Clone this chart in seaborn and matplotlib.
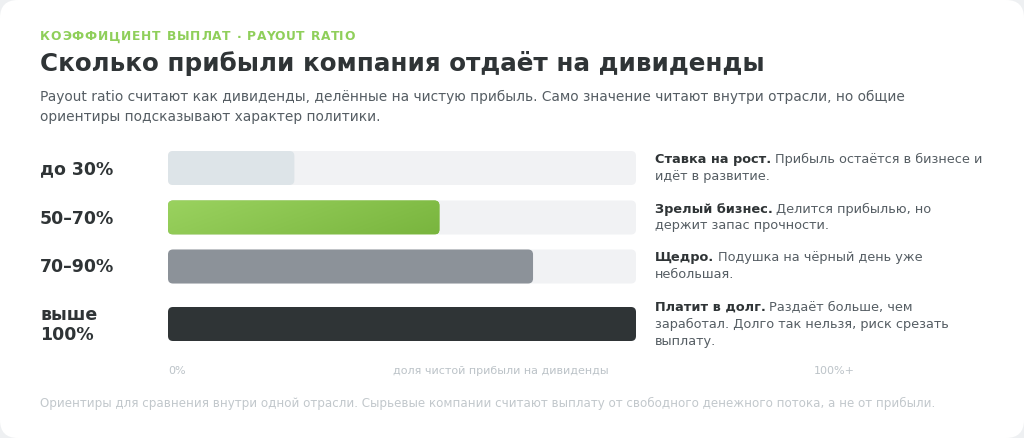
import numpy as np
import pandas as pd
import matplotlib
matplotlib.use("Agg")
import matplotlib.pyplot as plt
import seaborn as sns
from matplotlib.patches import FancyBboxPatch

# ---------------- data ----------------
categories = ["до 30%", "50–70%", "70–90%", "выше\n100%"]
payout_share = [0.27, 0.58, 0.78, 1.00]
track_share = [1.0, 1.0, 1.0, 1.0]
lead_text = ["Ставка на рост.", "Зрелый бизнес.", "Щедро.", "Платит в долг."]
desc_lines = [
    ["Прибыль остаётся в бизнесе и", "идёт в развитие."],
    ["Делится прибылью, но", "держит запас прочности."],
    ["Подушка на чёрный день уже", "небольшая."],
    ["Раздаёт больше, чем", "заработал. Долго так нельзя, риск срезать", "выплату."],
]
axis_labels = ["0%", "доля чистой прибыли на дивиденды", "100%+"]
kicker = "КОЭФФИЦИЕНТ ВЫПЛАТ · PAYOUT RATIO"
title = "Сколько прибыли компания отдаёт на дивиденды"
subtitle_lines = [
    "Payout ratio считают как дивиденды, делённые на чистую прибыль. Само значение читают внутри отрасли, но общие",
    "ориентиры подсказывают характер политики.",
]
footnote = ("Ориентиры для сравнения внутри одной отрасли. Сырьевые компании считают выплату "
            "от свободного денежного потока, а не от прибыли.")

# ---------------- style ----------------
sns.set_theme(style="white")
plt.rcParams["font.family"] = ["DejaVu Sans"]

DARK = "#2f3436"
MID = "#555d63"
LIGHT = "#bcc3c8"
GREEN = "#8fcf5a"
bar_colors = ["#dde4e8", "#88c24d", "#8c9299", "#2f3436"]
TRACK = "#f1f2f4"

W, H = 1024, 438
fig = plt.figure(figsize=(W / 100, H / 100), dpi=100, facecolor="#eef0f2")
bg = fig.add_axes([0, 0, 1, 1])
bg.set_xlim(0, W)
bg.set_ylim(H, 0)
bg.axis("off")
bg.patch.set_alpha(0)
bg.add_patch(FancyBboxPatch((0, 0), W, H, boxstyle="round,pad=0,rounding_size=18",
                            fc="white", ec="none", zorder=0))
renderer = fig.canvas.get_renderer()


def text_width(s, **kw):
    t = bg.text(0, 0, s, **kw)
    w = t.get_window_extent(renderer).width
    t.remove()
    return w


# kicker with letter spacing
kk = dict(fontsize=8.8, fontweight="bold", color=GREEN, va="center", ha="left")
natural = text_width(kicker, **kk)
sp = (315 - natural) / (len(kicker) - 1)
for i, ch in enumerate(kicker):
    x = 40 + (text_width(kicker[:i], **kk) if i else 0) + i * sp
    bg.text(x, 37, ch, **kk)

bg.text(40, 64, title, fontsize=17.7, fontweight="bold", color=DARK, va="center", ha="left")
for i, line in enumerate(subtitle_lines):
    bg.text(40, 97 + i * 20, line, fontsize=9.87, color=MID, va="center", ha="left")

# ---------------- bars ----------------
row_y = [168, 217.5, 266.5, 324]
bar_h = 34
X0, X1 = 168, 636
Y0, Y1 = 140, 350
ax = fig.add_axes([X0 / W, 1 - Y1 / H, (X1 - X0) / W, (Y1 - Y0) / H])
ax.patch.set_alpha(0)
df = pd.DataFrame({"cat": categories, "pos": row_y, "val": payout_share, "track": track_share})
wfrac = bar_h / 49.0
sns.barplot(data=df, x="track", y="pos", orient="h", native_scale=True, width=wfrac,
            color=TRACK, saturation=1, ax=ax)
n_track = len(ax.patches)
sns.barplot(data=df, x="val", y="pos", hue="cat", palette=bar_colors, orient="h",
            native_scale=True, width=wfrac, dodge=False, saturation=1, legend=False, ax=ax)
ax.set_xlim(0, 1)
ax.set_ylim(Y1, Y0)
ax.axis("off")

px_per_x = (X1 - X0)
r = 5.0
patches = list(ax.patches)
for k, p in enumerate(patches):
    x, y, w, h = p.get_x(), p.get_y(), p.get_width(), p.get_height()
    y0, hh = min(y, y + h), abs(h)
    fc = p.get_facecolor()
    p.set_visible(False)
    fp = FancyBboxPatch((x, y0), w, hh,
                        boxstyle=f"round,pad=0,rounding_size={r / px_per_x}",
                        mutation_aspect=px_per_x, fc=fc, ec="none", zorder=2 if k >= n_track else 1)
    ax.add_patch(fp)
    if k >= n_track and k - n_track == 1:
        # green gradient
        gx = np.linspace(0, 1, 200)[None, :]
        gy = np.linspace(0, 1, 40)[:, None]
        t = (gx * 0.75 + gy * 0.25)
        c1 = np.array(matplotlib.colors.to_rgb("#9ad25f"))
        c2 = np.array(matplotlib.colors.to_rgb("#79b53e"))
        img = c1[None, None, :] * (1 - t[..., None]) + c2[None, None, :] * t[..., None]
        im = ax.imshow(img, extent=(x, x + w, y0 + hh, y0), aspect="auto", zorder=3,
                       interpolation="bilinear")
        im.set_clip_path(fp)
ax.set_xlim(0, 1)
ax.set_ylim(Y1, Y0)

# ---------------- labels ----------------
for cat, yc in zip(categories, row_y):
    bg.text(40, yc + 1, cat, fontsize=12.5, fontweight="bold", color=DARK,
            va="center", ha="left", linespacing=1.15)

for lead, lines, yc in zip(lead_text, desc_lines, row_y):
    n = len(lines)
    ys = [yc + (i - (n - 1) / 2) * 17 for i in range(n)]
    kw = dict(fontsize=9.25, va="center", ha="left")
    bw = text_width(lead, fontweight="bold", **kw)
    bg.text(655, ys[0], lead, fontweight="bold", color=DARK, **kw)
    bg.text(655 + bw + 3.5, ys[0], lines[0], color=MID, **kw)
    for yy, line in zip(ys[1:], lines[1:]):
        bg.text(655, yy, line, color=MID, **kw)

bg.text(168, 371, axis_labels[0], fontsize=8, color=LIGHT, va="center", ha="left")
bg.text(501, 371, axis_labels[1], fontsize=8, color=LIGHT, va="center", ha="center")
bg.text(855, 371, axis_labels[2], fontsize=8, color=LIGHT, va="center", ha="right")

bg.text(40, 403, footnote, fontsize=8.54, color="#c2c8cc", va="center", ha="left")

fig.savefig("out.png", dpi=100, facecolor=fig.get_facecolor())
